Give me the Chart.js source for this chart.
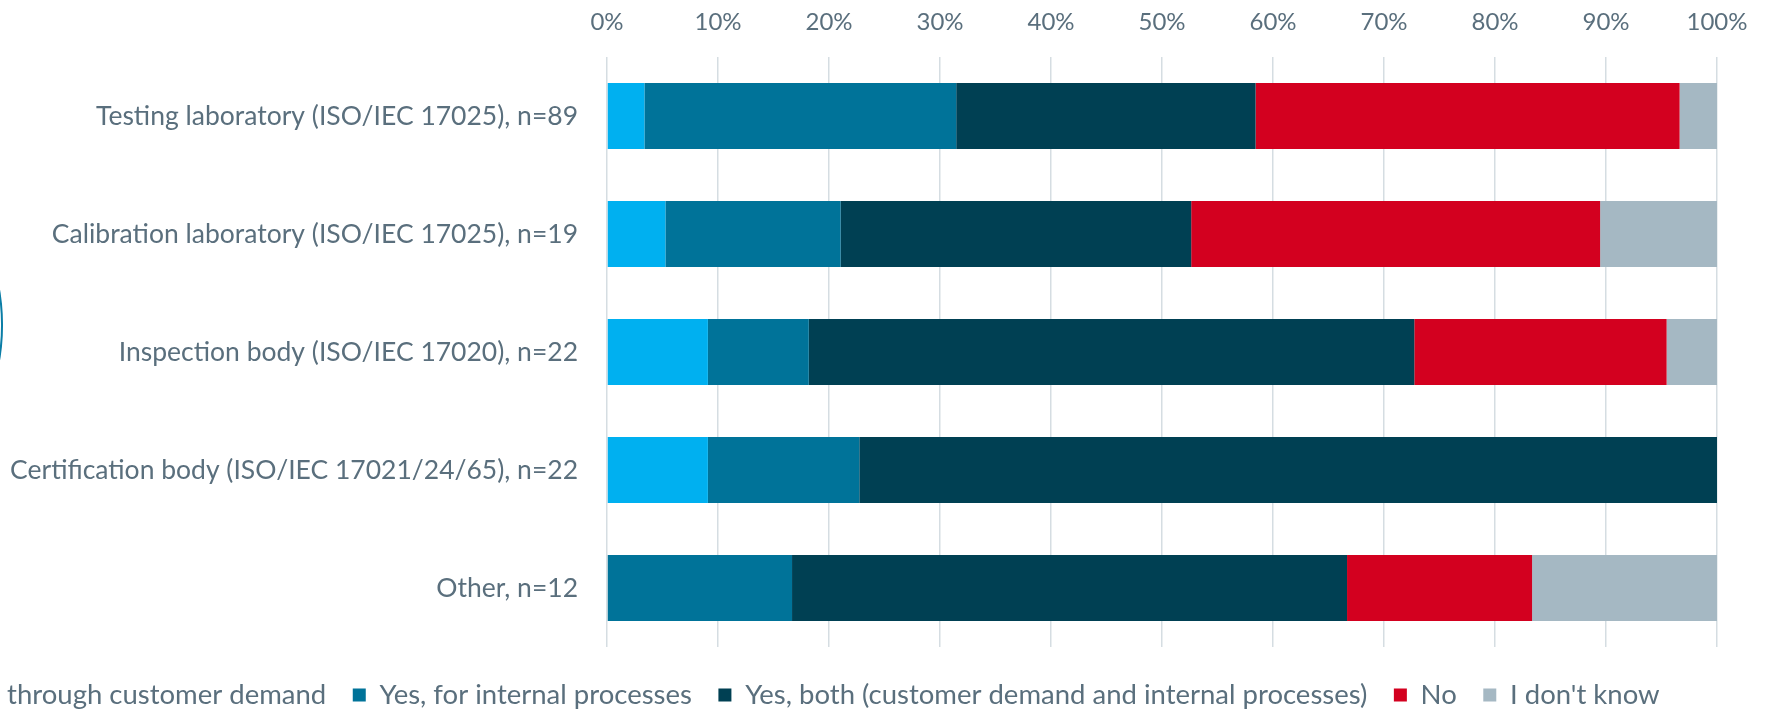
<!DOCTYPE html>
<html>
<head>
<meta charset="utf-8">
<script src="https://cdn.jsdelivr.net/npm/chart.js@4.4.1/dist/chart.umd.min.js"></script>
<style>
html, body { margin: 0; padding: 0; background: #ffffff; overflow: hidden; width: 1775px; height: 714px; }
#wrap { position: relative; width: 1775px; height: 714px; overflow: hidden; }
#c { position: absolute; top: 0; }
</style>
</head>
<body>
<div id="wrap"><canvas id="c"></canvas></div>
<script>
// ---- data (percent of respondents per category) ----
const categories = [
  'Testing laboratory (ISO/IEC 17025), n=89',
  'Calibration laboratory (ISO/IEC 17025), n=19',
  'Inspection body (ISO/IEC 17020), n=22',
  'Certification body (ISO/IEC 17021/24/65), n=22',
  'Other, n=12'
];
const seriesNames = [
  'Yes, through customer demand',
  'Yes, for internal processes',
  'Yes, both (customer demand and internal processes)',
  'No',
  "I don't know"
];
const yesCustomer = [3.37, 5.26, 9.09, 9.09, 0];
const yesInternal = [28.09, 15.79, 9.09, 13.64, 16.67];
const yesBoth     = [26.97, 31.58, 54.55, 77.27, 50.00];
const noValues    = [38.20, 36.84, 22.73, 0, 16.67];
const dontKnow    = [3.37, 10.53, 4.55, 0, 16.67];
const xTickLabels = ['0%', '10%', '20%', '30%', '40%', '50%', '60%', '70%', '80%', '90%', '100%'];

// ---- styling ----
const seriesColors = ['#00B0F0', '#007399', '#004053', '#D3001F', '#A5B8C3'];
const FAMILY = 'Lato, "Open Sans", sans-serif';
const TEXT = '#5A6F7D';

const mctx = document.createElement('canvas').getContext('2d');
function measure(text, size) { mctx.font = size + 'px ' + FAMILY; return mctx.measureText(text).width; }
function fitSize(text, target) { return Math.round(target / measure(text, 100) * 100 * 2) / 2; }

const catSize = fitSize(categories[0], 484);
const tickSize = fitSize('100%', 61);
// legend: fit the visible legend texts to their total width in the reference
const visibleLegend = ['through customer demand'].concat(seriesNames.slice(1)).join('');
const legendSize = Math.round(1435 / measure(visibleLegend, 100) * 100 * 2) / 2;

// layout targets (screen pixels)
const W = 1775, H = 714;
const areaLeft = 607, areaRight = 1717, areaTop = 57, areaBottom = 647;
const legendPad = 26.5, boxW = 13;
const firstVisibleX = 7;
const legendTextY = 695;

// canvas shifted left so that the legend's first item is cut like in the reference
const prefixW = measure('Yes, ', legendSize);
const L = Math.round(legendPad + boxW + legendSize / 2 + prefixW - firstVisibleX);

const canvas = document.getElementById('c');
canvas.width = W + L;
canvas.height = H;
canvas.style.left = (-L) + 'px';
canvas.style.width = (W + L) + 'px';
canvas.style.height = H + 'px';

const legendHeight = legendSize + legendPad + 10;
const padBottom = H - areaBottom - legendHeight;
const legendNudge = legendTextY - (areaBottom + legendPad + legendSize / 2);

const datasets = [yesCustomer, yesInternal, yesBoth, noValues, dontKnow].map((vals, i) => ({
  label: seriesNames[i],
  data: vals,
  backgroundColor: seriesColors[i],
  borderWidth: 0,
  barPercentage: 0.56,
  categoryPercentage: 1.0
}));

const decoPlugin = {
  id: 'deco',
  afterLayout(chart) {
    chart.legend.top += legendNudge;
    chart.legend.bottom += legendNudge;
  },
  afterDraw(chart) {
    const ctx = chart.ctx;
    ctx.save();
    ctx.strokeStyle = '#0A7DA6';
    ctx.lineWidth = 2;
    ctx.beginPath();
    const r = 216;
    ctx.arc(L + 2 - r, 325, r, -0.2, 0.2);
    ctx.stroke();
    ctx.restore();
  }
};

new Chart(canvas, {
  type: 'bar',
  data: { labels: categories, datasets },
  options: {
    indexAxis: 'y',
    responsive: false,
    animation: false,
    devicePixelRatio: 1,
    layout: { padding: { left: 0, right: 0, top: 0, bottom: padBottom } },
    plugins: {
      tooltip: { enabled: false },
      legend: {
        position: 'bottom',
        align: 'start',
        labels: {
          boxWidth: boxW,
          boxHeight: boxW,
          padding: legendPad,
          color: TEXT,
          font: { family: FAMILY, size: legendSize }
        }
      }
    },
    scales: {
      x: {
        position: 'top',
        stacked: true,
        min: 0,
        max: 100,
        ticks: {
          stepSize: 10,
          color: TEXT,
          font: { family: FAMILY, size: tickSize },
          padding: areaTop - 22 - tickSize * 0.6,
          callback: (v, i) => xTickLabels[i]
        },
        grid: { color: '#D5DDE2', lineWidth: 1.5, drawTicks: false },
        border: { display: false },
        afterFit: (s) => { s.height = areaTop; }
      },
      y: {
        stacked: true,
        ticks: {
          color: TEXT,
          font: { family: FAMILY, size: catSize },
          padding: 29
        },
        grid: { display: false, drawTicks: false },
        border: { display: false },
        afterFit: (s) => { s.width = L + areaLeft; }
      },
      yRight: {
        type: 'category',
        position: 'right',
        display: true,
        ticks: { display: false },
        grid: { display: false, drawTicks: false },
        border: { display: false },
        afterFit: (s) => { s.width = W - areaRight; }
      }
    }
  },
  plugins: [decoPlugin]
});
</script>
</body>
</html>
